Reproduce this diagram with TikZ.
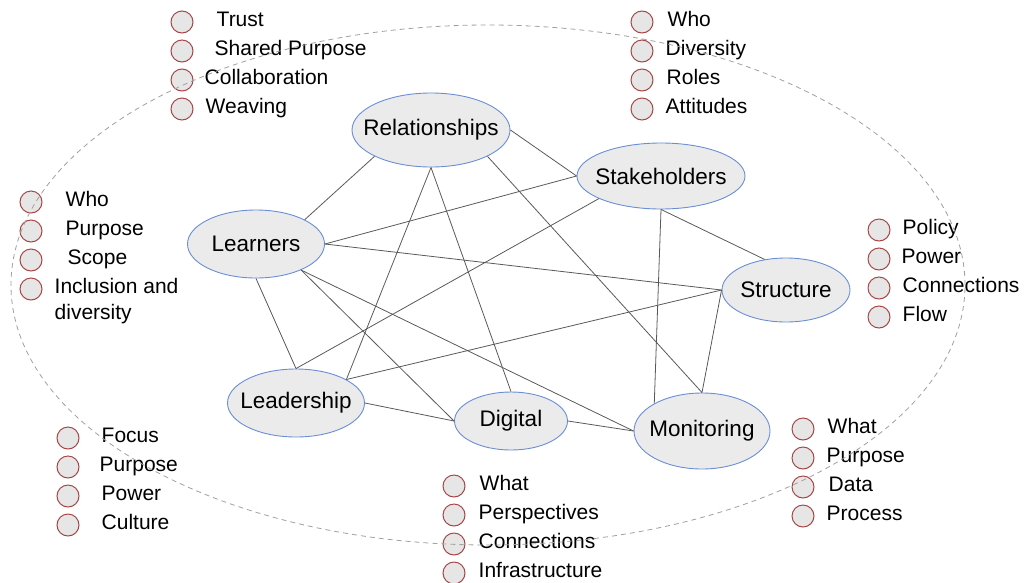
\documentclass[tikz,border=0pt]{standalone}
\usepackage{fontspec}
\setmainfont{Liberation Sans}
\usepackage{tikz}
\usetikzlibrary{positioning, shapes.geometric}

\definecolor{topicfill}{HTML}{EBEBEB}
\definecolor{topicline}{HTML}{6A8ED6}
\definecolor{dotline}{HTML}{A84646}
\definecolor{dotfill}{HTML}{E6E6E6}
\definecolor{linkgray}{HTML}{595959}
\definecolor{rimgray}{HTML}{A0A0A0}

\begin{document}
\begin{tikzpicture}[
    x=1pt, y=-1pt,
    font=\fontsize{21}{25}\selectfont,
    node distance=6pt,
    topic/.style={
        ellipse,
        draw=topicline,
        fill=topicfill,
        line width=0.9pt,
        inner xsep=-12pt,
        inner ysep=0pt,
        font=\fontsize{22.5}{27}\selectfont
    },
    dot/.style={
        circle,
        draw=dotline,
        fill=dotfill,
        line width=1pt,
        minimum size=22pt,
        inner sep=0pt
    },
    item/.style={
        inner sep=0pt,
        text height=0.8em,
        text depth=0pt
    },
    link/.style={
        draw=linkgray,
        line width=0.8pt
    },
    rim/.style={
        draw=rimgray,
        line width=0.8pt,
        dash pattern=on 5pt off 4pt
    }
]

\useasboundingbox (0,0) rectangle (1028,582);

% the seven topics
\node[topic, minimum width=158pt, minimum height=74pt] (rel) at (431,130)
{Relationships};

\node[topic, minimum width=168pt, minimum height=66pt] (stak) at (661,176)
{Stakeholders};

\node[topic, minimum width=137pt, minimum height=68pt] (learn) at (256,244)
{Learners};

\node[topic, minimum width=128pt, minimum height=64pt] (struct) at (786,290)
{Structure};

\node[topic, minimum width=137pt, minimum height=68pt] (lead) at (296,403)
{Leadership};

\node[topic, minimum width=113pt, minimum height=58pt] (dig) at (511,421)
{Digital};

\node[topic, minimum width=136pt, minimum height=76pt] (mon) at (702,431)
{Monitoring};

\draw[link] (rel.205) -- (learn.north east);
\draw[link] (rel.east) -- (stak.west);
\draw[link] (rel.south) -- (lead.25);
\draw[link] (rel.south) -- (dig.north);
\draw[link] (rel.-25) -- (mon.north);

\draw[link] (stak.west) -- (learn.east);
\draw[link] (stak.200) -- (lead.north);
\draw[link] (stak.south) -- (mon.150);
\draw[link] (stak.south) -- (struct.125);

\draw[link] (learn.east) -- (struct.west);
\draw[link] (learn.south) -- (lead.north);
\draw[link] (learn.-30) -- (dig.west);
\draw[link] (learn.-30) -- (mon.west);

\draw[link] (struct.west) -- (lead.25);
\draw[link] (struct.west) -- (mon.north);

\draw[link] (lead.east) -- (dig.west);
\draw[link] (dig.east) -- (mon.west);

% relationships list
\node[dot] (rel1) at (182,22) {};
\node[dot, below=of rel1] (rel2) {};
\node[dot, below=of rel2] (rel3) {};
\node[dot, below=of rel3] (rel4) {};
\node[item, right=23pt of rel1] (rel1t) {Trust};
\node[item, right=21pt of rel2] (rel2t) {Shared Purpose};
\node[item, right=11pt of rel3] (rel3t) {Collaboration};
\node[item, right=12pt of rel4] (rel4t) {Weaving};

% stakeholders list
\node[dot] (stak1) at (642,22) {};
\node[dot, below=of stak1] (stak2) {};
\node[dot, below=of stak2] (stak3) {};
\node[dot, below=of stak3] (stak4) {};
\node[item, right=14pt of stak1] (stak1t) {Who};
\node[item, right=12pt of stak2] (stak2t) {Diversity};
\node[item, right=13pt of stak3] (stak3t) {Roles};
\node[item, right=12pt of stak4] (stak4t) {Attitudes};

% learners list
\node[dot] (learn1) at (31,202) {};
\node[dot, below=of learn1] (learn2) {};
\node[dot, below=of learn2] (learn3) {};
\node[dot, below=of learn3] (learn4) {};
\node[item, right=23pt of learn1] (learn1t) {Who};
\node[item, right=23pt of learn2] (learn2t) {Purpose};
\node[item, right=25pt of learn3] (learn3t) {Scope};
\node[item, right=12pt of learn4] (learn4t) {Inclusion and};
\node[item, below=26pt of learn4t.west, anchor=west] (learn5t) {diversity};

% structure list
\node[dot] (struct1) at (879,230) {};
\node[dot, below=of struct1] (struct2) {};
\node[dot, below=of struct2] (struct3) {};
\node[dot, below=of struct3] (struct4) {};
\node[item, right=12pt of struct1] (struct1t) {Policy};
\node[item, right=11pt of struct2] (struct2t) {Power};
\node[item, right=12pt of struct3] (struct3t) {Connections};
\node[item, right=12pt of struct4] (struct4t) {Flow};

% leadership list
\node[dot] (lead1) at (68,438) {};
\node[dot, below=of lead1] (lead2) {};
\node[dot, below=of lead2] (lead3) {};
\node[dot, below=of lead3] (lead4) {};
\node[item, right=22pt of lead1] (lead1t) {Focus};
\node[item, right=20pt of lead2] (lead2t) {Purpose};
\node[item, right=22pt of lead3] (lead3t) {Power};
\node[item, right=22pt of lead4] (lead4t) {Culture};

% digital list
\node[dot] (dig1) at (454,486) {};
\node[dot, below=of dig1] (dig2) {};
\node[dot, below=of dig2] (dig3) {};
\node[dot, below=of dig3] (dig4) {};
\node[item, right=14pt of dig1] (dig1t) {What};
\node[item, right=13pt of dig2] (dig2t) {Perspectives};
\node[item, right=13pt of dig3] (dig3t) {Connections};
\node[item, right=13pt of dig4] (dig4t) {Infrastructure};

% monitoring list
\node[dot] (mon1) at (803,429) {};
\node[dot, below=of mon1] (mon2) {};
\node[dot, below=of mon2] (mon3) {};
\node[dot, below=of mon3] (mon4) {};
\node[item, right=13pt of mon1] (mon1t) {What};
\node[item, right=12pt of mon2] (mon2t) {Purpose};
\node[item, right=14pt of mon3] (mon3t) {Data};
\node[item, right=12pt of mon4] (mon4t) {Process};

% outer boundary
\draw[rim] (488,285) ellipse [x radius=477pt, y radius=260pt];

\end{tikzpicture}
\end{document}
